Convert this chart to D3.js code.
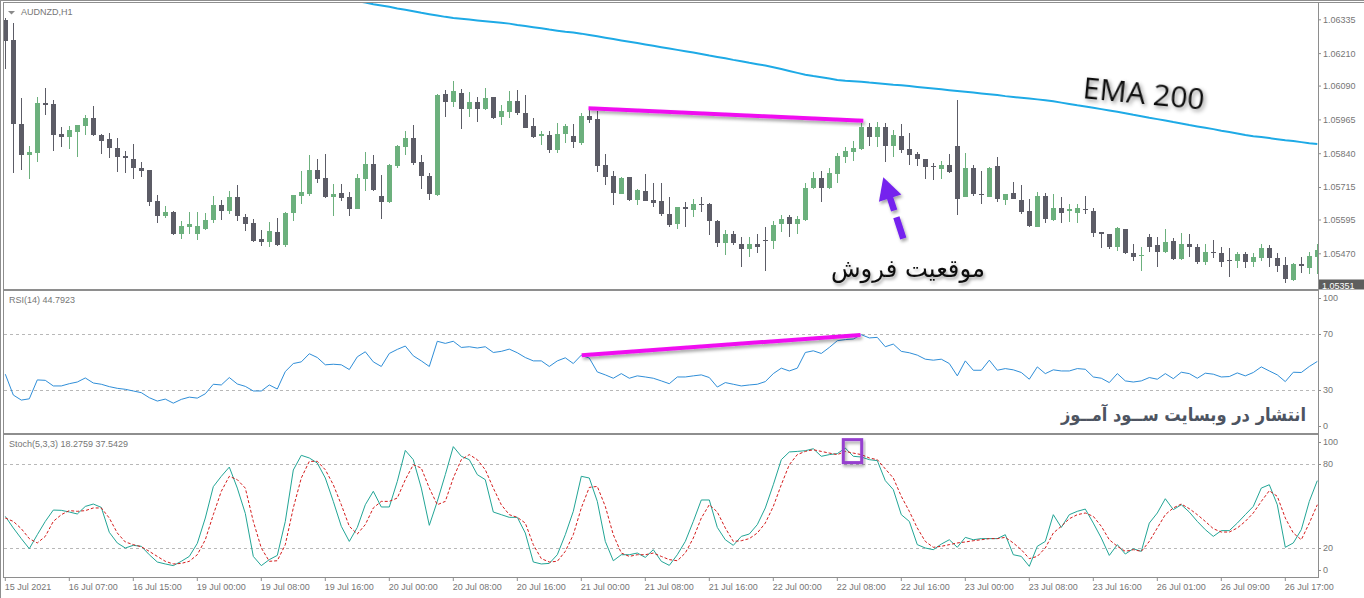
<!DOCTYPE html>
<html><head><meta charset="utf-8">
<script src="https://cdn.jsdelivr.net/npm/d3@7"></script>
<style>body{margin:0;background:#fff;overflow:hidden}svg{display:block}</style>
</head><body>
<svg id="c" width="1364" height="598"></svg>
<script>
// ---------------- DATA ----------------
const symbolLabel = "AUDNZD,H1";
const rsiLabel = "RSI(14) 44.7923";
const stochLabel = "Stoch(5,3,3) 18.2759 37.5429";
const timeLabels = ["15 Jul 2021","16 Jul 07:00","16 Jul 15:00","19 Jul 00:00","19 Jul 08:00","19 Jul 16:00","20 Jul 00:00","20 Jul 08:00","20 Jul 16:00","21 Jul 00:00","21 Jul 08:00","21 Jul 16:00","22 Jul 00:00","22 Jul 08:00","22 Jul 16:00","23 Jul 00:00","23 Jul 08:00","23 Jul 16:00","26 Jul 01:00","26 Jul 09:00","26 Jul 17:00"];
const priceTicks = [1.06335,1.06210,1.06090,1.05965,1.05840,1.05715,1.05595,1.05470];
const lastPrice = 1.05351;
const rsiLevels = [70,30];
const rsiTickLabels = [100,70,30,0];
const stochLevels = [80,20];
const stochTickLabels = [100,80,20,0];

const opens = [1.06332,1.06258,1.05948,1.05833,1.05841,1.06024,1.06021,1.05911,1.05901,1.05919,
1.05940,1.05971,1.05907,1.05891,1.05858,1.05829,1.05818,1.05785,1.05778,1.05663,
1.05607,1.05622,1.05541,1.05566,1.05541,1.05560,1.05593,1.05649,1.05625,1.05679,
1.05605,1.05583,1.05523,1.05511,1.05548,1.05500,1.05620,1.05681,1.05689,1.05778,
1.05748,1.05679,1.05694,1.05677,1.05634,1.05745,1.05800,1.05681,1.05659,1.05793,
1.05864,1.05896,1.05807,1.05755,1.05685,1.06058,1.06030,1.06063,1.06004,1.06029,
1.06002,1.06046,1.05972,1.05993,1.06033,1.05987,1.05940,1.05903,1.05908,1.05851,
1.05911,1.05903,1.05878,1.05977,1.05965,1.05796,1.05755,1.05691,1.05752,1.05667,
1.05699,1.05667,1.05662,1.05617,1.05580,1.05640,1.05630,1.05652,1.05652,1.05591,
1.05509,1.05541,1.05506,1.05487,1.05506,1.05521,1.05514,1.05578,1.05603,1.05578,
1.05593,1.05710,1.05750,1.05710,1.05763,1.05827,1.05845,1.05854,1.05938,1.05901,
1.05938,1.05866,1.05903,1.05854,1.05837,1.05817,1.05792,1.05782,1.05796,1.05866,
1.05679,1.05787,1.05691,1.05679,1.05792,1.05667,1.05694,1.05667,1.05627,1.05568,
1.05681,1.05593,1.05637,1.05625,1.05620,1.05634,1.05627,1.05548,1.05541,1.05494,
1.05559,1.05470,1.05460,1.05529,1.05499,1.05474,1.05516,1.05450,1.05504,1.05494,
1.05437,1.05474,1.05470,1.05445,1.05442,1.05467,1.05438,1.05451,1.05488,1.05451,
1.05425,1.05373,1.05430,1.05415,1.05457];
const highs = [1.06340,1.06322,1.06045,1.05867,1.06046,1.06081,1.06036,1.05938,1.05940,1.05944,
1.05981,1.06014,1.05911,1.05915,1.05895,1.05849,1.05874,1.05807,1.05779,1.05685,
1.05644,1.05627,1.05590,1.05622,1.05622,1.05620,1.05681,1.05667,1.05699,1.05722,
1.05615,1.05595,1.05556,1.05586,1.05599,1.05622,1.05687,1.05774,1.05833,1.05818,
1.05837,1.05728,1.05728,1.05696,1.05763,1.05844,1.05834,1.05759,1.05800,1.05869,
1.05923,1.05944,1.05833,1.05765,1.06058,1.06073,1.06108,1.06076,1.06066,1.06046,
1.06080,1.06049,1.06020,1.06071,1.06073,1.06054,1.05969,1.05923,1.05923,1.05952,
1.05948,1.05948,1.05989,1.06011,1.05997,1.05837,1.05775,1.05753,1.05753,1.05708,
1.05763,1.05730,1.05730,1.05677,1.05642,1.05660,1.05669,1.05679,1.05657,1.05593,
1.05556,1.05551,1.05531,1.05529,1.05543,1.05566,1.05590,1.05611,1.05611,1.05607,
1.05730,1.05771,1.05775,1.05784,1.05841,1.05864,1.05884,1.05950,1.05952,1.05956,
1.05952,1.05925,1.05948,1.05913,1.05844,1.05819,1.05804,1.05810,1.05837,1.06036,
1.05839,1.05796,1.05775,1.05790,1.05827,1.05691,1.05733,1.05721,1.05669,1.05696,
1.05694,1.05689,1.05677,1.05652,1.05654,1.05681,1.05637,1.05549,1.05543,1.05568,
1.05560,1.05506,1.05492,1.05541,1.05531,1.05558,1.05526,1.05546,1.05541,1.05506,
1.05504,1.05521,1.05494,1.05488,1.05476,1.05476,1.05470,1.05506,1.05500,1.05470,
1.05455,1.05435,1.05457,1.05476,1.05504];
const lows = [1.06153,1.05768,1.05777,1.05744,1.05808,1.05981,1.05849,1.05864,1.05855,1.05827,
1.05907,1.05903,1.05837,1.05823,1.05771,1.05768,1.05743,1.05751,1.05646,1.05583,
1.05599,1.05537,1.05523,1.05543,1.05521,1.05556,1.05583,1.05593,1.05617,1.05590,
1.05553,1.05513,1.05498,1.05492,1.05498,1.05494,1.05590,1.05654,1.05681,1.05731,
1.05674,1.05607,1.05664,1.05607,1.05632,1.05701,1.05701,1.05596,1.05657,1.05784,
1.05833,1.05796,1.05708,1.05667,1.05683,1.05975,1.06009,1.05928,1.05975,1.05956,
1.05999,1.05967,1.05944,1.05969,1.05980,1.05932,1.05895,1.05871,1.05841,1.05841,
1.05876,1.05858,1.05870,1.05952,1.05771,1.05722,1.05649,1.05689,1.05665,1.05648,
1.05662,1.05640,1.05607,1.05568,1.05560,1.05568,1.05603,1.05622,1.05536,1.05494,
1.05463,1.05500,1.05418,1.05457,1.05472,1.05405,1.05487,1.05548,1.05529,1.05541,
1.05590,1.05708,1.05660,1.05706,1.05730,1.05804,1.05812,1.05851,1.05866,1.05864,
1.05808,1.05827,1.05841,1.05796,1.05792,1.05745,1.05740,1.05743,1.05768,1.05610,
1.05677,1.05681,1.05652,1.05677,1.05660,1.05648,1.05669,1.05617,1.05568,1.05566,
1.05583,1.05590,1.05583,1.05586,1.05583,1.05617,1.05529,1.05488,1.05487,1.05479,
1.05467,1.05442,1.05405,1.05476,1.05420,1.05470,1.05447,1.05447,1.05457,1.05430,
1.05426,1.05451,1.05418,1.05383,1.05414,1.05414,1.05420,1.05442,1.05418,1.05401,
1.05361,1.05368,1.05396,1.05393,1.05393];
const closes = [1.06256,1.05948,1.05833,1.05844,1.06026,1.06019,1.05907,1.05901,1.05925,1.05943,
1.05970,1.05907,1.05886,1.05858,1.05827,1.05821,1.05784,1.05775,1.05660,1.05609,
1.05622,1.05541,1.05570,1.05578,1.05570,1.05593,1.05649,1.05627,1.05679,1.05607,
1.05578,1.05516,1.05511,1.05553,1.05500,1.05620,1.05685,1.05696,1.05778,1.05745,
1.05679,1.05689,1.05675,1.05634,1.05748,1.05800,1.05704,1.05659,1.05797,1.05866,
1.05896,1.05802,1.05755,1.05689,1.06055,1.06030,1.06071,1.06002,1.06030,1.06002,
1.06044,1.05970,1.05997,1.06033,1.05987,1.05935,1.05901,1.05911,1.05851,1.05911,
1.05940,1.05882,1.05977,1.05962,1.05793,1.05753,1.05694,1.05750,1.05667,1.05704,
1.05664,1.05657,1.05615,1.05573,1.05640,1.05632,1.05652,1.05647,1.05590,1.05509,
1.05541,1.05509,1.05487,1.05504,1.05494,1.05516,1.05573,1.05595,1.05578,1.05597,
1.05713,1.05747,1.05710,1.05768,1.05829,1.05847,1.05858,1.05938,1.05901,1.05938,
1.05866,1.05907,1.05851,1.05833,1.05817,1.05790,1.05790,1.05797,1.05771,1.05671,
1.05787,1.05691,1.05689,1.05787,1.05669,1.05689,1.05671,1.05622,1.05570,1.05681,
1.05595,1.05637,1.05620,1.05634,1.05637,1.05630,1.05546,1.05541,1.05492,1.05563,
1.05470,1.05457,1.05464,1.05494,1.05474,1.05511,1.05450,1.05504,1.05492,1.05438,
1.05474,1.05470,1.05438,1.05442,1.05467,1.05438,1.05455,1.05488,1.05451,1.05423,
1.05376,1.05430,1.05423,1.05460,1.05484];

// EMA 200 (visible from bar 44 onward; earlier values lie above the chart window)
const emaStartBar = 44;
const ema200 = [1.06402,1.06397,1.06391,1.06386,1.06381,1.06375,1.06370,1.06365,1.06359,1.06354,
1.06349,1.06344,1.06340,1.06337,1.06334,1.06331,1.06328,1.06325,1.06322,1.06319,
1.06314,1.06310,1.06306,1.06302,1.06297,1.06293,1.06289,1.06286,1.06282,1.06277,
1.06272,1.06267,1.06262,1.06257,1.06252,1.06247,1.06242,1.06237,1.06232,1.06227,
1.06222,1.06217,1.06212,1.06207,1.06201,1.06196,1.06191,1.06185,1.06180,1.06174,
1.06169,1.06164,1.06158,1.06151,1.06144,1.06137,1.06130,1.06125,1.06121,1.06116,
1.06111,1.06108,1.06106,1.06104,1.06101,1.06099,1.06096,1.06093,1.06091,1.06088,
1.06085,1.06082,1.06079,1.06076,1.06073,1.06070,1.06067,1.06064,1.06061,1.06058,
1.06055,1.06051,1.06048,1.06045,1.06042,1.06039,1.06036,1.06032,1.06027,1.06022,
1.06017,1.06013,1.06008,1.06003,1.05998,1.05993,1.05988,1.05982,1.05977,1.05971,
1.05966,1.05961,1.05955,1.05950,1.05944,1.05939,1.05934,1.05929,1.05923,1.05918,
1.05913,1.05907,1.05903,1.05900,1.05896,1.05892,1.05888,1.05885,1.05881,1.05877,1.05874];

const rsi = [41.3,26.4,22.8,23.7,37.2,36.9,32.9,32.9,34.5,35.7,
38.6,35.0,34.1,32.4,31.2,30.5,29.3,28.1,24.5,22.1,
23.5,20.6,23.3,24.9,24.2,27.3,34.1,33.6,38.9,34.3,
32.6,29.3,29.3,33.6,30.7,43.2,48.9,50.1,55.9,53.2,
48.0,48.4,48.0,44.6,53.7,57.3,50.1,46.8,56.1,59.0,
61.4,54.4,50.8,46.8,64.8,63.3,64.8,60.4,60.9,60.0,
60.9,56.8,57.6,59.2,56.6,53.2,50.8,50.8,46.8,50.8,
53.0,48.9,54.9,52.8,42.9,40.8,38.4,41.7,38.4,40.1,
39.3,38.4,36.5,34.5,39.3,39.3,40.1,40.8,38.9,32.1,
35.3,34.1,32.9,33.6,34.1,36.0,41.7,45.6,43.6,45.6,
56.8,58.0,56.1,60.4,65.2,66.0,66.4,69.5,67.2,67.6,
60.9,62.8,57.6,56.6,54.9,52.0,51.3,52.0,48.9,40.1,
50.8,44.1,44.1,51.3,44.1,45.3,44.4,42.5,37.7,46.5,
41.7,44.4,43.6,43.6,45.3,44.8,39.3,38.4,35.3,41.7,
36.5,35.7,36.5,38.9,37.7,41.7,38.1,42.7,41.7,38.4,
42.0,41.3,39.3,39.6,42.2,40.1,42.5,46.5,43.6,40.8,
36.0,42.7,42.5,46.8,50.4];

const stochK = [42.6,34.3,26.7,19.5,29.5,39.0,47.1,46.9,45.7,44.3,
49.7,51.4,49.0,31.2,23.6,20.0,21.9,21.2,15.2,10.0,
8.6,7.4,10.5,14.0,23.3,41.4,63.8,71.2,77.8,62.8,
44.7,14.0,7.4,11.7,14.7,39.0,75.7,86.2,84.3,80.7,
70.0,53.3,35.5,24.7,34.7,50.9,60.5,49.3,49.3,67.6,
89.7,83.1,62.8,36.2,53.3,72.4,92.4,85.5,83.1,72.4,
68.8,45.7,43.8,41.9,41.9,30.7,10.0,8.6,9.0,15.2,
29.5,46.2,71.2,70.0,53.3,24.7,10.9,15.2,15.2,16.4,
13.3,18.8,10.5,7.6,15.2,24.7,39.0,54.3,54.3,34.7,
25.9,21.9,28.3,30.0,36.7,48.6,65.2,83.1,88.6,89.0,
89.5,90.9,85.5,86.7,87.4,91.4,85.5,85.0,83.1,82.4,
68.1,61.7,43.8,39.0,22.4,20.0,18.8,22.8,25.9,20.5,
27.6,25.9,26.7,26.7,26.7,29.5,15.2,14.0,6.9,21.2,
24.7,43.8,34.7,43.8,46.2,47.8,37.8,27.1,14.7,22.4,
15.7,19.5,17.6,37.8,45.0,55.2,47.4,50.9,45.7,39.0,
33.1,28.3,32.4,32.4,37.8,43.8,49.7,62.8,65.2,50.9,
20.5,23.6,33.1,53.3,68.1];

const stochD = [41.4,39.0,33.8,26.7,23.6,28.3,39.0,43.8,46.7,46.2,
46.7,48.6,48.6,41.4,30.7,24.3,22.4,20.9,17.6,14.0,
10.5,8.6,9.0,10.5,15.2,25.9,43.8,60.5,71.2,68.8,
62.8,39.0,20.0,10.5,10.9,22.4,48.6,70.0,81.9,81.9,
75.9,65.2,50.9,35.5,30.0,36.7,48.6,53.3,53.3,55.7,
68.8,79.5,77.1,62.8,50.9,53.3,70.0,83.1,86.7,83.1,
75.9,62.8,50.9,43.8,41.9,37.8,22.4,12.4,10.0,10.5,
17.6,29.5,48.6,63.3,64.0,49.7,29.5,16.4,14.0,15.2,
15.2,16.4,14.0,11.7,10.9,16.4,27.1,41.4,50.9,45.7,
34.3,24.7,25.2,26.7,30.7,37.8,49.7,65.2,79.5,86.7,
89.0,90.2,89.0,87.8,86.7,89.0,87.8,86.7,84.3,83.1,
76.5,70.0,56.9,46.2,34.3,24.7,20.5,21.2,22.4,23.6,
24.3,25.2,25.9,26.7,26.7,27.6,23.6,18.8,12.4,14.0,
20.0,30.7,35.5,40.9,43.8,45.0,42.6,35.5,25.9,21.2,
17.6,18.8,17.6,24.7,34.3,43.8,48.6,51.4,48.1,43.8,
39.0,33.8,31.4,31.4,34.3,39.0,45.0,53.3,60.9,56.9,
41.4,30.7,25.9,37.8,50.9];

// annotations (anchored in data space)
const priceTrend = [{bar:72.9, price:1.06006},{bar:107.25, price:1.05960}];
const rsiTrend = [{bar:72.05, v:54.9},{bar:106.9, v:69.3}];
const stochBox = {bar0:104.75, bar1:107.05, v0:81.0, v1:97.4};
const arrowTail = {bar:112.25, price:1.05525};
const arrowTip = {bar:109.75, price:1.05751};
const emaText = "EMA 200";
const sellText = "موقعیت فروش";
const watermark = "انتشار در وبسایت ســود آمــوز";

// ---------------- LAYOUT ----------------
const svg = d3.select("#c");
const PL = 4, PR = 1318;
const main = {t:3, b:289}, rsiP = {t:291, b:433}, stP = {t:435, b:577};
const FONT = "'Liberation Sans', Arial, sans-serif";
const TXT = "#767676", BORDER = "#8e8e8e";
const BULL = "#6cb07d", BEAR = "#5c5c66";

const nBars = opens.length;
const x = d3.scaleLinear().domain([0, nBars-1]).range([5.3, 5.3 + 8*(nBars-1)]);
const yP = d3.scaleLinear().domain([1.05470, 1.06335]).range([253.3, 19.3]);
const yR = d3.scaleLinear().domain([0,100]).range([432, 292]);
const yS = d3.scaleLinear().domain([0,100]).range([576, 436]);

const defs = svg.append("defs");
[["cm",main],["cr",rsiP],["cs",stP]].forEach(([id,p])=>{
  defs.append("clipPath").attr("id",id).append("rect")
    .attr("x",PL).attr("y",p.t).attr("width",PR-PL).attr("height",p.b-p.t);
});
const sh = defs.append("filter").attr("id","shadow").attr("x","-20%").attr("y","-50%").attr("width","140%").attr("height","200%");
sh.append("feDropShadow").attr("dx",1.5).attr("dy",2.5).attr("stdDeviation",1.6).attr("flood-color","#000").attr("flood-opacity",0.35);
const sh2 = defs.append("filter").attr("id","shadow2").attr("x","-20%").attr("y","-50%").attr("width","140%").attr("height","200%");
sh2.append("feDropShadow").attr("dx",2).attr("dy",2).attr("stdDeviation",2).attr("flood-color","#000").attr("flood-opacity",0.45);

svg.append("rect").attr("width",1364).attr("height",598).attr("fill","#ffffff");

// frame lines
const frame = svg.append("g").attr("stroke",BORDER).attr("fill","none").attr("shape-rendering","crispEdges");
frame.append("line").attr("x1",0.5).attr("x2",0.5).attr("y1",0).attr("y2",598);
frame.append("line").attr("x1",0).attr("x2",1364).attr("y1",0.5).attr("y2",0.5);
frame.append("line").attr("x1",PL-0.5).attr("x2",1364).attr("y1",main.t-0.5).attr("y2",main.t-0.5);
[main,rsiP,stP].forEach(p=>{
  frame.append("rect").attr("x",PL-0.5).attr("y",p.t-0.5).attr("width",PR-PL+1).attr("height",p.b-p.t+1);
});

// ---------------- MAIN PANEL ----------------
const gM = svg.append("g").attr("clip-path","url(#cm)");
const candles = d3.range(nBars).map(i=>({i,o:opens[i],h:highs[i],l:lows[i],c:closes[i]}));
const cg = gM.append("g").attr("shape-rendering","crispEdges");
cg.selectAll("line.w").data(candles).join("line")
  .attr("x1",d=>Math.round(x(d.i))+0.5).attr("x2",d=>Math.round(x(d.i))+0.5)
  .attr("y1",d=>yP(d.h)).attr("y2",d=>yP(d.l))
  .attr("stroke",d=>d.c>=d.o?BULL:BEAR).attr("stroke-width",1);
cg.selectAll("rect.b").data(candles).join("rect")
  .attr("x",d=>Math.round(x(d.i))-2).attr("width",5)
  .attr("y",d=>yP(Math.max(d.o,d.c)))
  .attr("height",d=>Math.max(1,yP(Math.min(d.o,d.c))-yP(Math.max(d.o,d.c))))
  .attr("fill",d=>d.c>=d.o?BULL:BEAR);

const emaData = ema200.map((v,k)=>({i:k+emaStartBar,v}));
gM.append("path").datum(emaData)
  .attr("d",d3.line().x(d=>x(d.i)).y(d=>yP(d.v)))
  .attr("fill","none").attr("stroke","#1eaae6").attr("stroke-width",2);

gM.append("line")
  .attr("x1",x(priceTrend[0].bar)).attr("y1",yP(priceTrend[0].price))
  .attr("x2",x(priceTrend[1].bar)).attr("y2",yP(priceTrend[1].price))
  .attr("stroke","#f00ef0").attr("stroke-width",4).attr("filter","url(#shadow)");

// arrow
(function(){
  const tx=x(arrowTip.bar), ty=yP(arrowTip.price), sx=x(arrowTail.bar), sy=yP(arrowTail.price);
  const L=Math.hypot(tx-sx,ty-sy), ux=(tx-sx)/L, uy=(ty-sy)/L, px=-uy, py=ux;
  const hl=22, hw=11.8, col="#7424ee";
  const bx=tx-ux*hl, by=ty-uy*hl;
  const ag = gM.append("g").attr("filter","url(#shadow)");
  ag.append("line").attr("x1",bx+ux*2).attr("y1",by+uy*2).attr("x2",sx).attr("y2",sy)
    .attr("stroke",col).attr("stroke-width",6.5).attr("stroke-dasharray","15,7,60");
  ag.append("path").attr("d",`M${tx},${ty}L${bx+px*hw},${by+py*hw}L${bx-px*hw},${by-py*hw}Z`).attr("fill",col);
})();

gM.append("text").attr("x",985).attr("y",277).attr("direction","rtl").attr("text-anchor","start")
  .attr("font-family","'DejaVu Sans', 'Noto Sans', sans-serif").attr("font-size",25)
  .attr("textLength",154).attr("lengthAdjust","spacingAndGlyphs")
  .attr("fill","#111").attr("filter","url(#shadow)").text(sellText);

gM.append("text").attr("transform","translate(1144,92) rotate(5.5)")
  .attr("text-anchor","middle").attr("dominant-baseline","central")
  .attr("font-family","'Open Sans', sans-serif").attr("font-size",30).attr("font-weight",500)
  .attr("fill","#111").attr("filter","url(#shadow2)").text(emaText);

// header
svg.append("path").attr("d","M8,11L15,11L11.5,14.5Z").attr("fill","#8a8a8a");
svg.append("text").attr("x",21).attr("y",15).attr("font-family",FONT).attr("font-size",9).attr("fill",TXT).text(symbolLabel);

// price axis
const pa = svg.append("g").attr("transform",`translate(${PR},0)`)
  .call(d3.axisRight(yP).tickValues(priceTicks).tickFormat(d3.format(".5f")).tickSize(3).tickPadding(2));
pa.select(".domain").remove();
pa.selectAll("line").attr("stroke",BORDER);
pa.selectAll("text").attr("font-family",FONT).attr("font-size",9).attr("fill",TXT);
const lp = svg.append("g");
defs.append("clipPath").attr("id","clp").append("rect").attr("x",PR).attr("y",0).attr("width",50).attr("height",main.b+0.5);
lp.attr("clip-path","url(#clp)");
lp.append("rect").attr("x",PR+1).attr("y",yP(lastPrice)-6).attr("width",45).attr("height",12).attr("fill","#5e5e5e");
lp.append("text").attr("x",PR+4).attr("y",yP(lastPrice)+3.5).attr("font-family",FONT).attr("font-size",9).attr("fill","#fff").text(d3.format(".5f")(lastPrice));

// ---------------- RSI PANEL ----------------
const gR = svg.append("g").attr("clip-path","url(#cr)");
gR.selectAll("line.lv").data(rsiLevels).join("line")
  .attr("x1",PL).attr("x2",PR).attr("y1",d=>Math.round(yR(d))+0.5).attr("y2",d=>Math.round(yR(d))+0.5)
  .attr("stroke","#b8b8b8").attr("stroke-dasharray","3,3");
gR.append("path").datum(rsi).attr("d",d3.line().x((d,i)=>x(i)).y(d=>yR(d)))
  .attr("fill","none").attr("stroke","#2f8ed8").attr("stroke-width",1);
gR.append("line")
  .attr("x1",x(rsiTrend[0].bar)).attr("y1",yR(rsiTrend[0].v))
  .attr("x2",x(rsiTrend[1].bar)).attr("y2",yR(rsiTrend[1].v))
  .attr("stroke","#f00ef0").attr("stroke-width",4).attr("filter","url(#shadow)");
gR.append("text").attr("x",1306).attr("y",421).attr("direction","rtl").attr("text-anchor","start")
  .attr("font-family","'DejaVu Sans', sans-serif").attr("font-weight","bold").attr("font-size",18)
  .attr("textLength",245).attr("lengthAdjust","spacingAndGlyphs")
  .attr("fill","#4d5461").text(watermark);
svg.append("text").attr("x",9).attr("y",303).attr("font-family",FONT).attr("font-size",9).attr("fill",TXT).text(rsiLabel);
const rLab = svg.append("g");
rLab.selectAll("text").data(rsiTickLabels).join("text")
  .attr("x",PR+5).attr("y",d=>Math.min(Math.max(yR(d),rsiP.t+7),rsiP.b-7)+3.2)
  .attr("font-family",FONT).attr("font-size",9).attr("fill",TXT).text(d=>d);
rLab.selectAll("line").data(rsiTickLabels).join("line")
  .attr("x1",PR).attr("x2",PR+3).attr("y1",d=>Math.round(Math.min(Math.max(yR(d),rsiP.t+7),rsiP.b-7))+0.5)
  .attr("y2",d=>Math.round(Math.min(Math.max(yR(d),rsiP.t+7),rsiP.b-7))+0.5).attr("stroke",BORDER);

// ---------------- STOCH PANEL ----------------
const gS = svg.append("g").attr("clip-path","url(#cs)");
gS.selectAll("line.lv").data(stochLevels).join("line")
  .attr("x1",PL).attr("x2",PR).attr("y1",d=>Math.round(yS(d))+0.5).attr("y2",d=>Math.round(yS(d))+0.5)
  .attr("stroke","#b8b8b8").attr("stroke-dasharray","3,3");
gS.append("path").datum(stochK).attr("d",d3.line().x((d,i)=>x(i)).y(d=>yS(d)))
  .attr("fill","none").attr("stroke","#22a596").attr("stroke-width",1);
gS.append("path").datum(stochD).attr("d",d3.line().x((d,i)=>x(i)).y(d=>yS(d)))
  .attr("fill","none").attr("stroke","#d41c1c").attr("stroke-width",1).attr("stroke-dasharray","3,2");
gS.append("rect")
  .attr("x",x(stochBox.bar0)).attr("width",x(stochBox.bar1)-x(stochBox.bar0))
  .attr("y",yS(stochBox.v1)).attr("height",yS(stochBox.v0)-yS(stochBox.v1))
  .attr("fill","none").attr("stroke","#9640cf").attr("stroke-width",3).attr("filter","url(#shadow)");
svg.append("text").attr("x",9).attr("y",447).attr("font-family",FONT).attr("font-size",9).attr("fill",TXT).text(stochLabel);
const sLab = svg.append("g");
sLab.selectAll("text").data(stochTickLabels).join("text")
  .attr("x",PR+5).attr("y",d=>Math.min(Math.max(yS(d),stP.t+7),stP.b-7)+3.2)
  .attr("font-family",FONT).attr("font-size",9).attr("fill",TXT).text(d=>d);
sLab.selectAll("line").data(stochTickLabels).join("line")
  .attr("x1",PR).attr("x2",PR+3).attr("y1",d=>Math.round(Math.min(Math.max(yS(d),stP.t+7),stP.b-7))+0.5)
  .attr("y2",d=>Math.round(Math.min(Math.max(yS(d),stP.t+7),stP.b-7))+0.5).attr("stroke",BORDER);

// ---------------- TIME AXIS ----------------
const tickBars = timeLabels.map((_,k)=>k*8);
const ta = svg.append("g").attr("transform",`translate(0,${stP.b})`)
  .call(d3.axisBottom(x).tickValues(tickBars).tickFormat((d,k)=>timeLabels[k]).tickSize(4).tickPadding(3));
ta.select(".domain").remove();
ta.selectAll("line").attr("stroke",BORDER).attr("transform","translate(-0.5,0)");
ta.selectAll("text").attr("text-anchor","start").attr("dx",-1)
  .attr("font-family",FONT).attr("font-size",9).attr("fill",TXT);
</script>
</body></html>
